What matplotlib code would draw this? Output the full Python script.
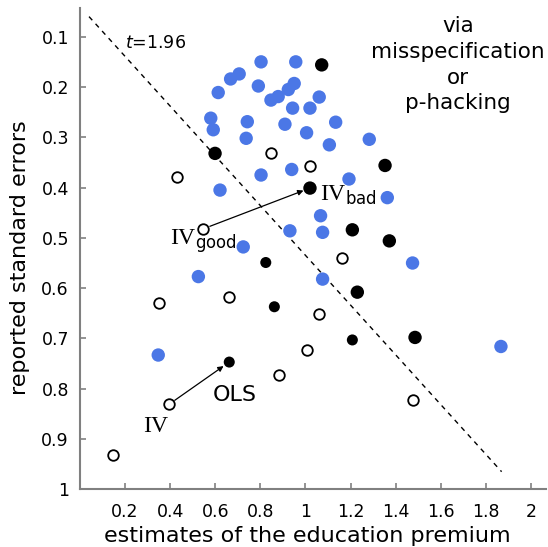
import matplotlib.pyplot as plt

# published estimates (x) and their standard errors (y)
blue_x = [0.803, 0.957, 0.706, 0.668, 0.791, 0.950, 0.924, 0.613, 0.879, 0.847,
          0.943, 1.020, 1.061, 0.580, 0.742, 0.909, 0.591, 1.005, 0.737, 1.134,
          1.106, 1.283, 0.939, 0.803, 1.193, 0.621, 1.363, 1.067, 0.931, 1.076,
          0.724, 0.525, 1.475, 1.076, 0.347, 1.867]
blue_y = [0.150, 0.150, 0.174, 0.184, 0.198, 0.193, 0.205, 0.211, 0.219, 0.226,
          0.242, 0.242, 0.220, 0.262, 0.269, 0.274, 0.285, 0.291, 0.302, 0.270,
          0.315, 0.304, 0.364, 0.375, 0.383, 0.405, 0.420, 0.456, 0.486, 0.489,
          0.518, 0.577, 0.550, 0.582, 0.733, 0.716]

# OLS estimates (filled black), larger and smaller markers
ols_big_x = [1.072, 0.599, 1.353, 1.020, 1.208, 1.372, 1.230, 1.486]
ols_big_y = [0.156, 0.332, 0.356, 0.401, 0.484, 0.506, 0.608, 0.698]
ols_small_x = [0.824, 0.862, 1.208, 0.662]
ols_small_y = [0.549, 0.637, 0.703, 0.747]

# IV estimates (open circles)
iv_x = [0.847, 1.020, 0.429, 0.547, 1.161, 0.350, 0.661, 1.061, 1.005, 0.884,
        0.395, 1.475, 0.145]
iv_y = [0.331, 0.357, 0.378, 0.482, 0.541, 0.630, 0.617, 0.651, 0.723, 0.773,
        0.831, 0.822, 0.932]

# t = 1.96 threshold line
line_x = [0.04, 1.87]
line_y = [0.06, 0.965]

xticks = [0.2, 0.4, 0.6, 0.8, 1.0, 1.2, 1.4, 1.6, 1.8, 2.0]
yticks = [0.1, 0.2, 0.3, 0.4, 0.5, 0.6, 0.7, 0.8, 0.9, 1.0]

plt.rcParams['mathtext.rm'] = 'Liberation Serif'
plt.rcParams['mathtext.sf'] = 'DejaVu Sans'

fig = plt.figure(figsize=(5.48, 5.47), dpi=100)
ax = fig.add_axes([0.146, 0.1055, 0.8504, 0.8793])

ax.plot(line_x, line_y, color='black', lw=1.0, ls=(0, (3.5, 3.5)), zorder=1)

ax.scatter(blue_x, blue_y, s=93, color='#4b77e6', edgecolors='none', zorder=2)
ax.scatter(ols_big_x, ols_big_y, s=93, color='black', edgecolors='none', zorder=3)
ax.scatter(ols_small_x, ols_small_y, s=63, color='black', edgecolors='none', zorder=3)
ax.scatter(iv_x, iv_y, s=58, facecolors='white', edgecolors='black',
           linewidths=1.3, zorder=3)

arrow = dict(arrowstyle='-|>', lw=0.9, color='black', shrinkA=5, shrinkB=5,
             mutation_scale=8)
ax.annotate('', xy=(ols_small_x[3], ols_small_y[3]), xytext=(iv_x[10], iv_y[10]),
            arrowprops=arrow)
ax.annotate('', xy=(ols_big_x[3], ols_big_y[3]), xytext=(iv_x[3], iv_y[3]),
            arrowprops=arrow)

ax.text(0.279, 0.887, 'IV', fontsize=17, family='Liberation Serif', va='baseline')
ax.text(0.588, 0.824, 'OLS', fontsize=16, va='baseline')
ax.text(1.064, 0.426, r'$\mathrm{IV}_{\mathsf{bad}}$', fontsize=17,
        math_fontfamily='custom', va='baseline')
ax.text(0.399, 0.513, r'$\mathrm{IV}_{\mathsf{good}}$', fontsize=17,
        math_fontfamily='custom', va='baseline')
ax.text(0.2, 0.123, r'$t$=1.96', fontsize=12.5, va='baseline')
ax.text(1.676, 0.156, 'via\nmisspecification\nor\np-hacking', fontsize=15.5,
        ha='center', va='center', multialignment='center', linespacing=1.35)

ax.set_xlim(0, 2.067)
ax.set_ylim(1, 0.0435)
ax.set_xticks(xticks)
ax.set_yticks(yticks)
ax.set_xticklabels([f'{v:g}' for v in xticks])
ax.set_yticklabels([f'{v:g}' for v in yticks])

for side in ['top', 'right']:
    ax.spines[side].set_visible(False)
for side in ['left', 'bottom']:
    ax.spines[side].set_color('#808080')
    ax.spines[side].set_linewidth(1.5)
ax.tick_params(direction='in', length=4.5, width=1.2, color='#808080',
               labelsize=12.5)
ax.tick_params(axis='x', pad=10)
ax.tick_params(axis='y', pad=8)

ax.set_xlabel('estimates of the education premium', fontsize=16, va='center')
ax.set_ylabel('reported standard errors', fontsize=16, va='center')
ax.xaxis.set_label_coords(0.487, -0.097)
ax.yaxis.set_label_coords(-0.129, 0.481)

fig.savefig('out.png', dpi=100)
